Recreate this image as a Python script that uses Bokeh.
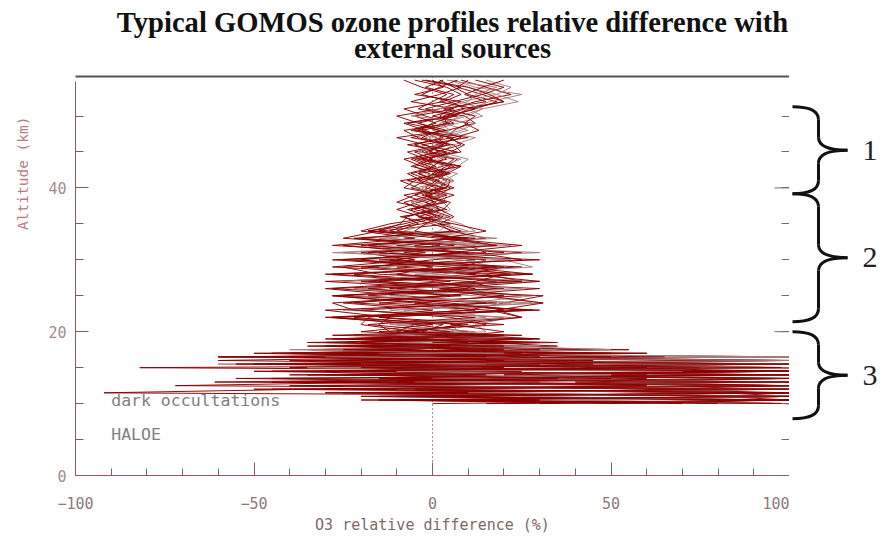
import math
from bokeh.plotting import figure
from bokeh.models import Range1d, LinearAxis, SingleIntervalTicker, FixedTicker, Span, Label, ColumnDataSource
from bokeh.layouts import row, column
from bokeh.embed import file_html
from bokeh.resources import INLINE
from bokeh.core.properties import value

# ---------------- data ----------------
alt_km = [55, 54, 53, 52, 51, 50, 49, 48, 47, 46, 45, 44, 43, 42, 41, 40, 39, 38, 37, 36, 35,
          34, 33, 32, 31, 30, 29, 28, 27, 26, 25, 24, 23, 22, 21,
          20, 19.5, 19, 18.5, 18, 17.5, 17, 16.5, 16, 15.5, 15, 14.5, 14, 13.5, 13, 12.5, 12,
          11.5, 11, 10.5, 10]

prof_01 = [8, 15, 22, 12, 5, 2, 6, -3, 1, 4, -2, 3, 0, -4, 2, -1, -5, 1, -3, 2, -6,
           -12, 5, 18, -8, 12, -20, 15, 25, -10, 20, -5, 28, -15, 8,
           -5, 12, -20, 25, -30, 45, -20, 100, -40, 70, -15, 100, -30, 60, -10, 100, -45, 100, 5, 100, 20]
prof_02 = [5, 10, 18, 24, 14, 8, 3, 10, 2, -5, 4, 1, -3, 5, -2, 3, -1, -4, 2, -2, 3,
           10, -15, 22, -25, 8, 18, -12, 30, -22, 12, 31, -8, 20, -10,
           6, -15, 20, -8, 30, -35, 60, -25, 100, -60, 40, -20, 100, -15, 85, -35, 100, -10, 100, 0, 60]
prof_03 = [12, 20, 14, 6, -2, 9, 12, 4, -6, 6, 8, -4, 5, 2, -7, 4, -8, -2, 4, -9, 0,
           6, -20, 10, 15, -28, 5, 22, -18, 30, 2, -22, 16, 25, -5,
           -10, 8, -25, 30, -12, 55, -40, 30, 15, 100, -82, 90, -20, 40, -30, 100, -25, 100, -15, 100, 30]
prof_04 = [2, 6, 10, 18, 12, 4, -4, 2, 8, 1, -3, 6, 3, -6, 0, 5, 2, -6, -1, 5, -3,
           -18, 12, -5, 20, -15, 25, -28, 10, 18, -25, 15, -20, 5, 15,
           -8, 20, -30, 15, 35, -20, 60, -60, 100, -30, 75, -45, 100, -10, 100, -20, 70, 5, 100, 10, 100]
prof_05 = [-5, 4, 8, 3, -8, -2, 5, -8, -4, 3, -7, -2, 6, 1, -5, -8, 3, -4, -10, -3, 5,
           -15, 8, -18, 12, 25, -10, 28, -30, 5, 25, -15, 30, -28, -5,
           10, -20, 15, -35, 25, -15, 40, -25, 80, -50, 100, -15, 60, 20, -61, 100, -35, -92, 100, -20, 80]
prof_06 = [6, 12, 25, 16, 10, 14, 7, 0, 12, 6, 2, 10, 7, 3, 6, 1, 4, 3, 5, 1, 8,
           12, -8, 15, -12, 20, 28, -5, 22, -20, 28, 10, -25, 22, 12,
           15, -5, 25, -15, 20, 50, -10, 100, -35, 60, 100, -5, 100, 30, 100, -15, 100, -30, 100, 40, 100]
prof_07 = [0, 3, -5, 8, 2, -10, -4, 4, -10, -2, 2, -8, -3, 4, -9, -4, 0, -8, -3, 1, -12,
           -20, -5, -28, 8, -12, 10, -22, 5, -30, -8, 18, -30, -12, -15,
           -12, 5, -28, 10, -35, 20, -50, 10, -60, 30, -40, 100, -20, 50, -10, -72, 100, -30, 100, -10, 70]
prof_08 = [10, 7, 14, 20, 8, 0, 10, 6, 4, 9, 5, -1, 8, 4, 1, -2, 6, 0, 2, 6, 2,
           5, 15, -10, 25, 0, -18, 20, 12, -12, 31, 20, 10, -22, 3,
           -3, 25, -10, 35, -20, 15, -30, 65, -15, 100, -25, 100, -40, 100, 10, 100, -50, 100, -20, 100, 50]
prof_09 = [3, -2, 6, 2, 12, 5, -8, -2, 3, -5, 0, 4, -5, -1, 4, 2, -3, 4, -6, -4, 2,
           8, -22, 2, -15, 15, 8, 28, -15, 20, -18, 5, 20, -15, 20,
           -15, 18, -5, -25, 10, -34, 25, -15, 45, -40, 20, -30, 100, -55, 30, -20, 100, -15, 100, 15, 100]
prof_10 = [15, 22, 18, 8, 14, 10, 2, 5, -2, 0, 6, 2, -2, 7, 3, -3, 1, 2, -2, 4, -1,
           -8, 18, -15, 30, -22, 12, 3, -25, 25, -12, 22, 5, 15, -12,
           12, -10, 30, -20, -5, 35, -15, 100, -25, 100, -35, 70, -20, 100, -5, 100, -10, 100, 25, 100, 100]
prof_11 = [-3, 8, 2, -6, 6, -5, 1, -6, 6, -7, 4, -5, 1, -7, -3, 3, -5, -10, 0, -7, -9,
           -15, -25, 6, -20, -5, -28, 12, -20, 10, -28, -5, 12, -30, 0,
           -20, 3, -15, 20, -25, 10, -45, 15, -30, 45, -20, 25, -35, 100, -45, 60, -30, 100, -10, 100, 15]
prof_12 = [20, 14, 9, 15, 3, 12, 9, 13, 6, 3, -1, 7, 4, 0, 5, 4, -2, 5, 3, -4, 6,
           15, 3, 25, 5, -10, 20, 10, 30, 2, 15, 31, 18, 25, 5,
           20, 10, 30, 0, 25, -10, 35, 10, 100, 15, 45, 100, 20, 100, 40, 100, 60, 100, 80, 100, 100]
prof_13 = [-8, -3, 4, 0, -4, 7, -7, 2, -3, 5, -5, 0, -6, 3, -2, -6, 4, -2, 2, -8, -4,
           -10, 10, -25, -2, -20, 0, -10, 18, -28, 8, -25, 0, -18, -20,
           -5, -15, 10, -20, 5, -25, 15, -40, 20, -55, 60, -20, 100, -45, 100, -30, 80, -5, 100, -15, 50]
prof_14 = [4, 18, 12, 10, 2, -6, 12, 8, -1, 2, -4, 8, 2, -2, 6, -5, 3, -6, 1, -1, 4,
           2, -12, 12, -28, 22, -15, 2, 20, -5, -22, 28, -12, 10, 8,
           5, -22, 20, -10, 30, -40, 20, -30, 100, -20, 100, -10, 50, 0, 100, -25, 100, 10, 100, 30, 100]
prof_15 = [7, 2, -3, 5, 9, 3, 4, -5, 10, -3, 7, -3, 8, -4, 1, 6, -1, 0, -5, 3, -2,
           -5, 8, -20, 10, -25, 18, -30, 0, 12, -28, 0, 25, -28, 10,
           -8, 15, -18, 25, -15, 30, -28, 50, -35, 100, -15, 100, -25, 35, -40, 100, -5, 100, -20, 100, 0]
prof_16 = [-2, 10, 16, 20, 10, 6, 0, -4, 5, 8, 1, -6, -1, 5, -4, 1, -2, 3, -7, 0, -8,
           -18, 2, 18, -18, 30, -25, -15, 25, -18, 5, -28, -22, 12, -18,
           5, -28, 28, -30, 20, -25, 50, -60, 40, -20, 100, -50, 15, -15, 100, -40, 100, -25, 100, -5, 100]

profiles = [prof_01, prof_02, prof_03, prof_04, prof_05, prof_06, prof_07, prof_08,
            prof_09, prof_10, prof_11, prof_12, prof_13, prof_14, prof_15, prof_16]
profile_colors = ["#8b0000", "#a87c7c", "#8b0000", "#8b0000", "#8b0000", "#a87c7c", "#8b0000", "#8b0000",
                  "#8b0000", "#a87c7c", "#8b0000", "#8b0000", "#8b0000", "#a87c7c", "#8b0000", "#8b0000"]
for pr in profiles:
    assert len(pr) == len(alt_km)

y_major_ticks = [0, 20, 40]
y_minor_ticks = [5, 10, 15, 25, 30, 35, 45, 50]

# altitude layers marked by braces on the right
region_labels = ["1", "2", "3"]
region_top = [51.3, 39.2, 20.0]
region_bottom = [39.2, 21.4, 7.9]

title_lines = ["Typical GOMOS ozone profiles relative difference with", "external sources"]
x_label = "O3 relative difference (%)"
y_label = "Altitude (km)"
legend_texts = ["dark occultations", "HALOE"]

# ---------------- layout constants ----------------
FONT = "DejaVu Sans Mono"
TOTAL_W, TOTAL_H = 880, 536
TITLE_H = 74
YLAB_W = 40
FRAME_LEFT, FRAME_W = 75, 714
MAIN_W = FRAME_LEFT + FRAME_W - YLAB_W
BRACE_W = TOTAL_W - YLAB_W - MAIN_W
BODY_H = TOTAL_H - TITLE_H
TOP_B, BOT_B = 2, 59
AXIS_COL = "#8c5c5c"
RAX_COL = "#7a6a6a"
PX_PER_X = FRAME_W / 200.0


def blank(w, h, xr, yr):
    f = figure(width=w, height=h, x_range=xr, y_range=yr, output_backend="svg",
               toolbar_location=None, title_location=None, x_axis_location=None,
               y_axis_location=None, min_border=0, outline_line_color=None,
               background_fill_color="white", border_fill_color="white")
    f.grid.visible = False
    return f


# ---------------- title strip ----------------
t = blank(TOTAL_W, TITLE_H, Range1d(0, TOTAL_W), Range1d(0, TITLE_H))
t.add_layout(Label(x=452, y=TITLE_H - 22, text=title_lines[0], text_align="center",
                   text_baseline="middle", text_font="Liberation Serif", text_font_style="bold",
                   text_font_size="28.6px", text_color="#111111"))
t.add_layout(Label(x=452, y=TITLE_H - 48, text=title_lines[1], text_align="center",
                   text_baseline="middle", text_font="Liberation Serif", text_font_style="bold",
                   text_font_size="28.6px", text_color="#111111"))

# ---------------- y label strip ----------------
yl = blank(YLAB_W, BODY_H, Range1d(0, YLAB_W), Range1d(0, BODY_H))
yl.add_layout(Label(x=22, y=TOTAL_H - 186, text=y_label, angle=math.pi / 2, text_align="center",
                    text_baseline="middle", text_font=FONT, text_font_size="14.5px",
                    text_color="#b57f7f"))

# ---------------- main plot ----------------
p = figure(width=MAIN_W, height=BODY_H, x_range=Range1d(-100, 100), y_range=Range1d(0, 55.5),
           output_backend="svg", toolbar_location=None, title_location=None,
           min_border_left=FRAME_LEFT - YLAB_W, min_border_right=0,
           min_border_top=TOP_B, min_border_bottom=BOT_B,
           outline_line_color=None, background_fill_color="white", border_fill_color="white")
p.xgrid.visible = False
p.ygrid.visible = False

xa = p.xaxis[0]
xa.ticker = SingleIntervalTicker(interval=50, num_minor_ticks=5)
xa.major_tick_in, xa.major_tick_out = 13, 0
xa.minor_tick_in, xa.minor_tick_out = 7, 0
xa.axis_line_color = AXIS_COL
xa.major_tick_line_color = AXIS_COL
xa.minor_tick_line_color = AXIS_COL
xa.major_label_text_font = FONT
xa.major_label_text_font_size = "15px"
xa.major_label_text_color = "#8a7a7a"
xa.major_label_standoff = 21
xa.axis_label = x_label
xa.axis_label_text_font = FONT
xa.axis_label_text_font_size = "15px"
xa.axis_label_text_font_style = "normal"
xa.axis_label_text_color = "#806868"
xa.axis_label_standoff = 4

ya = p.yaxis[0]
ya.ticker = FixedTicker(ticks=y_major_ticks, minor_ticks=y_minor_ticks)
ya.bounds = (0, 54.8)
ya.major_tick_in, ya.major_tick_out = 13, 0
ya.minor_tick_in, ya.minor_tick_out = 8, 0
ya.axis_line_color = AXIS_COL
ya.major_tick_line_color = AXIS_COL
ya.minor_tick_line_color = AXIS_COL
ya.major_label_text_font = FONT
ya.major_label_text_font_size = "15px"
ya.major_label_text_color = "#a08c8c"
ya.major_label_standoff = 9

# right axis: line and ticks only
ra = LinearAxis(ticker=FixedTicker(ticks=[], minor_ticks=sorted(y_major_ticks + y_minor_ticks)),
                bounds=(0, 54.8), major_tick_in=0, major_tick_out=0,
                minor_tick_in=8, minor_tick_out=0, major_label_standoff=0,
                axis_line_color=RAX_COL, minor_tick_line_color=RAX_COL)
p.add_layout(ra, "right")
# longer major ticks on the right side
p.segment(x0=[100 - 15 / PX_PER_X] * len(y_major_ticks), y0=y_major_ticks,
          x1=[100] * len(y_major_ticks), y1=y_major_ticks, line_color=RAX_COL, line_width=1)

# top rule
ta = LinearAxis(ticker=FixedTicker(ticks=[], minor_ticks=[]), major_tick_in=0, major_tick_out=0,
                minor_tick_in=0, minor_tick_out=0, major_label_standoff=0,
                axis_line_color="#555555", axis_line_width=2)
p.add_layout(ta, "above")

p.add_layout(Span(location=0, dimension="height", line_color="#8b0000", line_dash="1 3",
                  line_width=1, level="underlay"))

src = ColumnDataSource(dict(xs=profiles, ys=[alt_km] * len(profiles), color=profile_colors))
p.multi_line("xs", "ys", source=src, line_color="color", line_width=1.0, line_alpha=0.95)

p.add_layout(Label(x=-90, y=10.5, text=legend_texts[0], text_font=FONT, text_font_size="16.5px",
                   text_color="#808080", text_baseline="middle"))
p.add_layout(Label(x=-90, y=5.7, text=legend_texts[1], text_font=FONT, text_font_size="16.5px",
                   text_color="#808080", text_baseline="middle"))

# ---------------- brace strip ----------------
b = figure(width=BRACE_W, height=BODY_H, x_range=Range1d(0, BRACE_W), y_range=p.y_range,
           output_backend="svg", toolbar_location=None, title_location=None,
           x_axis_location=None, y_axis_location=None,
           min_border_left=0, min_border_right=0, min_border_top=TOP_B, min_border_bottom=BOT_B,
           outline_line_color=None, background_fill_color="white", border_fill_color="white")
b.grid.visible = False

XE, XS, XT, XL, R = 3, 29, 58, 73, 1.8
mids = [(tp + bo) / 2 for tp, bo in zip(region_top, region_bottom)]
qx0, qy0, qx1, qy1, qcx, qcy = [], [], [], [], [], []
sx0, sy0, sx1, sy1 = [], [], [], []
for tp, bo, m in zip(region_top, region_bottom, mids):
    for (a, c, e) in [((XE, tp), (XS, tp), (XS, tp - R)),
                      ((XS, m + R), (XS, m), (XT, m)),
                      ((XT, m), (XS, m), (XS, m - R)),
                      ((XS, bo + R), (XS, bo), (XE, bo))]:
        qx0.append(a[0]); qy0.append(a[1]); qcx.append(c[0]); qcy.append(c[1])
        qx1.append(e[0]); qy1.append(e[1])
    sx0 += [XS, XS]; sy0 += [tp - R, m - R]; sx1 += [XS, XS]; sy1 += [m + R, bo + R]
b.quadratic(x0=qx0, y0=qy0, x1=qx1, y1=qy1, cx=qcx, cy=qcy, line_color="#111111", line_width=3)
b.segment(x0=sx0, y0=sy0, x1=sx1, y1=sy1, line_color="#111111", line_width=3)
b.text(x=[XL] * len(mids), y=mids, text=region_labels, text_font=value("Liberation Serif"),
       text_font_size="30px", text_baseline="middle", text_align="left", text_color="#222222")

layout = column(t, row(yl, p, b))
open("out.html", "w").write(file_html(layout, INLINE))
